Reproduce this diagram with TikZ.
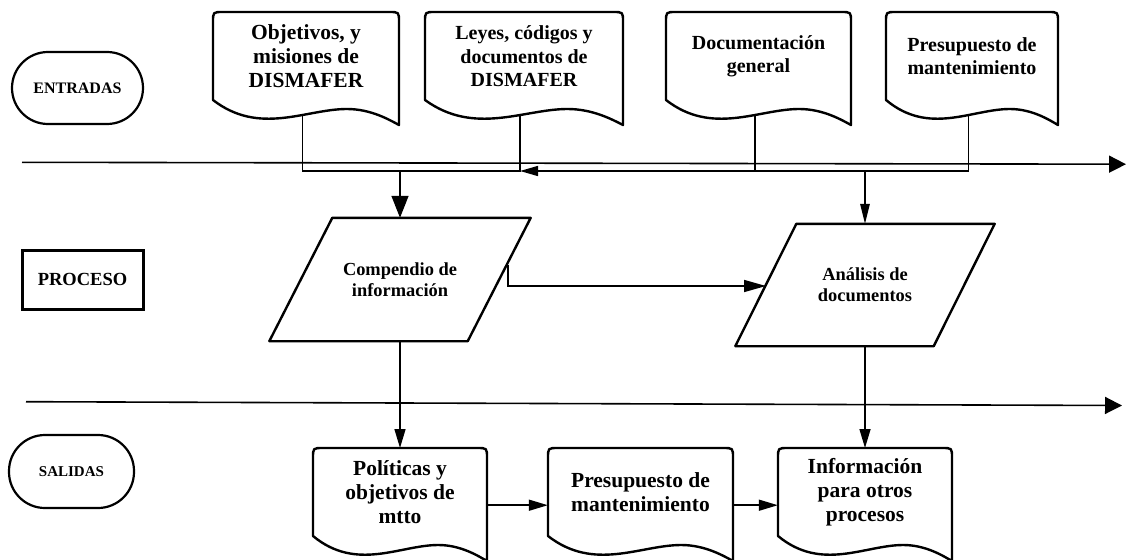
\documentclass[tikz,border=0pt]{standalone}
\usepackage{fontspec}
\setmainfont{Liberation Serif}
\usetikzlibrary{arrows.meta,calc}

\newcommand\fdoc{\fontsize{21.5}{24}\selectfont\bfseries}
\newcommand\fdocs{\fontsize{20}{23.5}\selectfont\bfseries}
\newcommand\fproc{\fontsize{18.4}{21}\selectfont\bfseries}
\newcommand\fterm{\fontsize{15}{17}\selectfont\bfseries}

\tikzset{
  box/.style={line width=2.4pt, line join=round},
  conn/.style={line width=1.5pt},
  arr/.style={conn, -{Triangle[length=19pt,width=11pt]}},
  bigarr/.style={conn, -{Triangle[length=22pt,width=17pt]}},
  sep/.style={line width=1.6pt, -{Triangle[length=17pt,width=17pt]}},
  doctext/.style={align=center, inner sep=0pt, minimum height=88pt, anchor=north},
  proctext/.style={align=center, inner sep=0pt, minimum width=198pt, font=\fproc},
  term/.style={draw, line width=2.2pt, rounded corners=36pt, font=\fterm, inner sep=0pt},
}

% document symbol: name, left x, top y, width, font, text
\newcommand\docshape[6]{%
  \begin{scope}[shift={(#2,#3)}]
    \draw[box] (0,88) -- (0,10) .. controls (0,0) .. (10,0) -- (#4-10,0)
      .. controls (#4,0) .. (#4,10) -- (#4,113)
      .. controls (0.95*#4,108) and (0.85*#4,97) .. (0.72*#4,97)
      .. controls (0.5*#4,97) and (0.25*#4,124) .. (0,88) -- cycle;
    \node[doctext, font=#5, minimum width=#4] (#1) at (0.5*#4,0) {#6};
    \coordinate (#1-tail) at (0.48*#4,103);
  \end{scope}}

\begin{document}
\begin{tikzpicture}[x=1pt,y=-1pt]
\useasboundingbox (0,0) rectangle (1131,559);
\clip (0,0) rectangle (1131,559);

% row labels
\node[term, minimum width=131pt, minimum height=72pt,
      font=\fontsize{16}{18}\selectfont\bfseries] (entr) at (77.5,88) {ENTRADAS};
\node[draw, line width=3pt, minimum width=121pt, minimum height=59pt, inner sep=0pt,
      font=\fontsize{18.5}{21}\selectfont\bfseries] (proc) at (82.5,279.5) {PROCESO};
\node[term, minimum width=125pt, minimum height=73pt] (sal) at (71.5,471.5) {SALIDAS};

% lane separators
\coordinate (s1a) at (22,162.3);
\coordinate (s1b) at (1126,164.2);
\coordinate (s2a) at (26,401.7);
\coordinate (s2b) at (1122,405.5);
\draw[sep] (s1a) -- (s1b);
\draw[sep] (s2a) -- (s2b);

% inputs
\docshape{b1}{213}{12}{186}{\fdoc}{Objetivos, y\\misiones de\\DISMAFER}
\docshape{b2}{425}{12}{198}{\fdocs}{Leyes, códigos y\\documentos de\\DISMAFER}
\docshape{b3}{666}{12}{185}{\fdocs}{Documentación\\general}
\docshape{b4}{886}{12}{172}{\fdocs}{Presupuesto de\\mantenimiento}

% process steps
\node[proctext, minimum height=123pt] (comp) at (400,279.5) {Compendio de\\información};
\draw[box] ($(comp.north west)+(31.5,0)$) -- ($(comp.north east)+(31.5,0)$)
  -- ($(comp.south east)+(-31.5,0)$) -- ($(comp.south west)+(-31.5,0)$) -- cycle;
\node[proctext, minimum height=122pt] (anal) at (865,285) {Análisis de\\documentos};
\draw[box] ($(anal.north west)+(30.5,0)$) -- ($(anal.north east)+(30.5,0)$)
  -- ($(anal.south east)+(-30.5,0)$) -- ($(anal.south west)+(-30.5,0)$) -- cycle;

% outputs
\docshape{p1}{313}{448}{174}{\fdoc}{Políticas y\\objetivos de\\mtto}
\docshape{p2}{548}{448}{185}{\fdoc}{Presupuesto de\\mantenimiento}
\docshape{p3}{778}{448}{174}{\fdoc}{Información\\para otros\\procesos}

% input connectors
\coordinate (j1) at (400,171);
\draw[conn] (b1-tail) |- (j1);
\draw[conn] (b2-tail) |- (j1);
\draw[bigarr] (j1) -- (comp.north);
\draw[arr, -{Triangle[length=18pt,width=10pt]}] (b3-tail) |- (b2-tail |- j1);
\draw[conn] (b4-tail) |- (b3-tail |- j1);
\draw[arr, -{Triangle[length=20pt,width=9.5pt]}] (anal.north |- j1) -- (anal.north);

% process connectors
\coordinate (cr) at (508,265);
\coordinate (al) at (766,286);
\draw[arr, -{Triangle[length=22pt,width=12pt]}] (cr) |- (al);
\draw[arr] (comp.south) -- (p1.north);
\draw[arr] (anal.south) -- (p3.north);

% output connectors
\draw[arr] ([yshift=-13pt]p1.east) -- ([yshift=-13pt]p2.west);
\draw[arr] ([yshift=-13pt]p2.east) -- ([yshift=-13pt]p3.west);
\end{tikzpicture}
\end{document}
